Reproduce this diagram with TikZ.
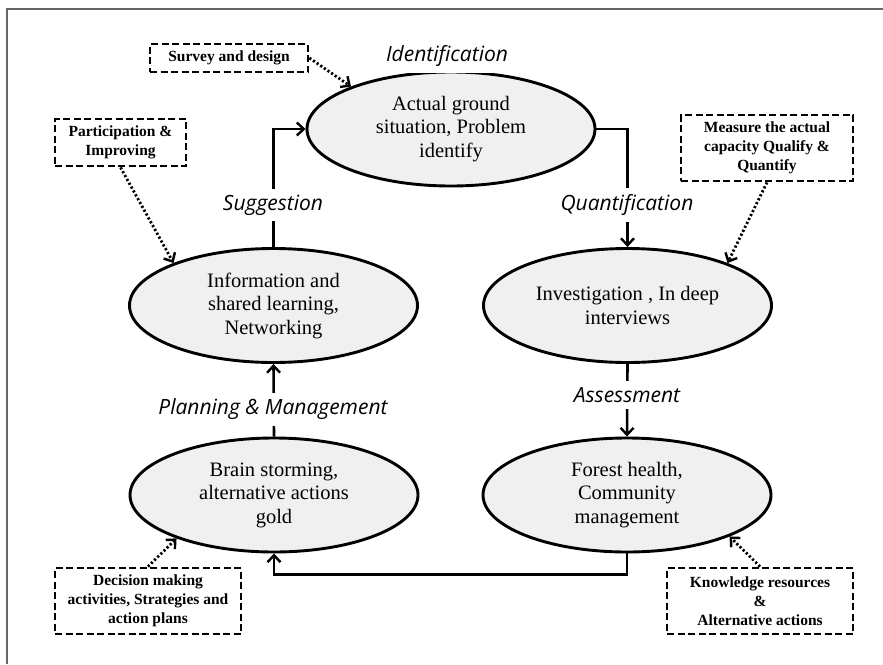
\documentclass[tikz,border=0pt]{standalone}
\usepackage{fontspec}
\setmainfont{Liberation Serif}
\newfontfamily\lblfont{Open Sans}
\usetikzlibrary{arrows.meta,shapes.geometric}
\begin{document}
\begin{tikzpicture}[x=1pt,y=-1pt,
  stage/.style={ellipse, draw, line width=2.9pt, fill=gray!12, minimum width=288pt, minimum height=114pt, inner sep=0pt, align=center, font=\fontsize{20.5}{23.5}\selectfont},
  note/.style={draw, line width=2.8pt, dash pattern=on 7pt off 3.5pt, align=center, inner sep=0pt, font=\fontsize{15.5}{19}\selectfont\bfseries},
  flow/.style={line width=2.6pt, -{Straight Barb[length=7pt,width=13pt,line width=2.4pt]}},
  hint/.style={line width=2.8pt, dash pattern=on 2.2pt off 2.2pt, -{Straight Barb[length=7pt,width=13pt,line width=2.4pt]}},
  tag/.style={fill=white, inner xsep=3pt, inner ysep=6pt, font=\lblfont\itshape\fontsize{21}{25}\selectfont}
]
\useasboundingbox (0,0) rectangle (883,664);
\draw[line width=1.6pt, black!60] (7,664) -- (7,9) -- (883,9);

% stages
\node[stage] (top) at (451,129) {Actual ground\\situation, Problem\\identify};
\node[stage] (lm) at (273.5,305.5) {Information and\\shared learning,\\Networking};
\node[stage] (rm) at (627.5,305.5) {Investigation , In deep\\interviews};
\node[stage] (bl) at (274,495) {Brain storming,\\alternative actions\\gold};
\node[stage] (br) at (627,495) {Forest health,\\Community\\management};

% notes
\node[note, minimum width=158pt, minimum height=28pt] (survey) at (229,58) {Survey and design};
\node[note, minimum width=131pt, minimum height=47pt] (partic) at (120.5,142.5) {Participation \&\\Improving};
\node[note, minimum width=172pt, minimum height=66pt] (measure) at (767,148) {Measure the actual\\capacity Qualify \&\\Quantify};
\node[note, minimum width=186pt, minimum height=66pt] (decision) at (148,601) {Decision making\\activities, Strategies and\\action plans};
\node[note, minimum width=186pt, minimum height=66pt] (know) at (760,601) {Knowledge resources\\\&\\Alternative actions};

% main flow
\draw[flow] (top.east) -| (rm.north);
\draw[flow] (rm.south) -- (br.north);
\draw[flow] (br.south) -- ++(0,21) coordinate (brb) -| (bl.south);
\draw[flow] (bl.north) -- (lm.south);
\draw[flow] (lm.north) |- (top.west);

% labels
\node[tag] (lid) at (447,56) {Identification};
\node[tag] (lq) at (627,205) {Quantification};
\node[tag] (la) at (627,395) {Assessment};
\node[tag] (lp) at (273,409) {Planning \& Management};
\node[tag] (ls) at (273,205) {Suggestion};

% hints
\draw[hint] (survey.east) -- (top.157);
\draw[hint] (partic.south) -- (lm.157);
\draw[hint] (measure.south) -- (rm.23);
\draw[hint] (decision.north) -- (bl.204);
\draw[hint] (know.north) -- (br.338);
\end{tikzpicture}
\end{document}
